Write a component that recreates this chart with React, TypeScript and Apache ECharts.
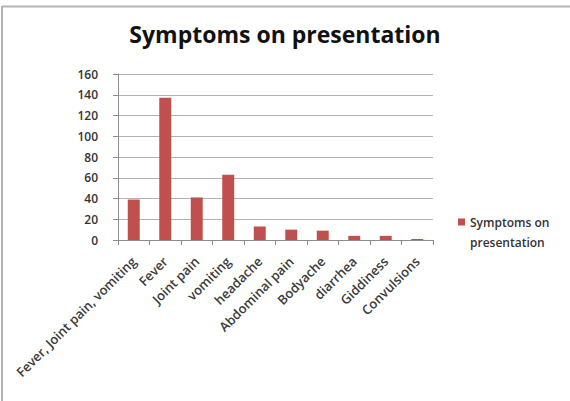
import React, { useEffect, useRef } from "react";
import * as echarts from "echarts";

const categories = [
  "Fever, Joint pain, vomiting",
  "Fever",
  "Joint pain",
  "vomiting",
  "headache",
  "Abdominal pain",
  "Bodyache",
  "diarrhea",
  "Giddiness",
  "Convulsions",
];
const counts = [39, 137, 41, 63, 13, 10, 9, 4, 4, 1];
const seriesName = "Symptoms on presentation";
const yTicks = { min: 0, max: 160, interval: 20 };

const FONT = "'Open Sans', Lato, sans-serif";

// Legend swatch: a small square at the top of a taller, otherwise empty box,
// so the square lines up with the first line of the two-line legend label.
const LEGEND_ICON = "path://M0,0L7,0L7,7L0,7Z M0,27L0.01,27";

export default function App() {
  const ref = useRef<HTMLDivElement>(null);

  useEffect(() => {
    if (!ref.current) return;
    const chart = echarts.init(ref.current, undefined, { renderer: "svg" });
    chart.setOption({
      animation: false,
      backgroundColor: "#ffffff",
      title: {
        text: "Symptoms on presentation",
        left: "center",
        top: 17,
        textStyle: { fontFamily: FONT, fontSize: 23, fontWeight: "bold", color: "#111" },
      },
      grid: { left: 118, right: 137, top: 74, bottom: 161, containLabel: false },
      legend: {
        orient: "vertical",
        left: 458,
        top: 212,
        padding: 0,
        itemWidth: 7,
        itemHeight: 27,
        icon: LEGEND_ICON,
        formatter: () => "Symptoms on\npresentation",
        textStyle: {
          fontFamily: FONT,
          fontSize: 12,
          fontWeight: 600,
          color: "#333",
          lineHeight: 20,
        },
      },
      xAxis: {
        type: "category",
        data: categories,
        axisLine: { lineStyle: { color: "#8c8c8c", width: 1 } },
        axisTick: { show: true, alignWithLabel: false, length: 5, lineStyle: { color: "#8c8c8c" } },
        axisLabel: {
          interval: 0,
          rotate: 45,
          margin: 19,
          fontFamily: FONT,
          fontSize: 13,
          fontWeight: 600,
          color: "#3a3a3a",
        },
      },
      yAxis: {
        type: "value",
        min: yTicks.min,
        max: yTicks.max,
        interval: yTicks.interval,
        axisLine: { show: true, lineStyle: { color: "#8c8c8c", width: 1 } },
        axisTick: { show: true, length: 5, lineStyle: { color: "#8c8c8c" } },
        splitLine: { lineStyle: { color: "#b3b3b3", width: 1 } },
        axisLabel: {
          margin: 20,
          fontFamily: FONT,
          fontSize: 12,
          fontWeight: 600,
          color: "#333",
        },
      },
      series: [
        {
          name: seriesName,
          type: "bar",
          data: counts,
          barWidth: "38%",
          itemStyle: { color: "#c0504d" },
        },
      ],
      graphic: [
        {
          type: "line",
          shape: { x1: 2, y1: 6.5, x2: 570, y2: 6.5 },
          style: { stroke: "#b4b4b4", lineWidth: 2 },
        },
        {
          type: "line",
          shape: { x1: 2, y1: 6, x2: 2, y2: 401 },
          style: { stroke: "#b4b4b4", lineWidth: 2 },
        },
      ],
    });
    return () => chart.dispose();
  }, []);

  return (
    <div
      ref={ref}
      style={{ position: "fixed", left: 0, top: 0, width: 570, height: 401 }}
    />
  );
}
